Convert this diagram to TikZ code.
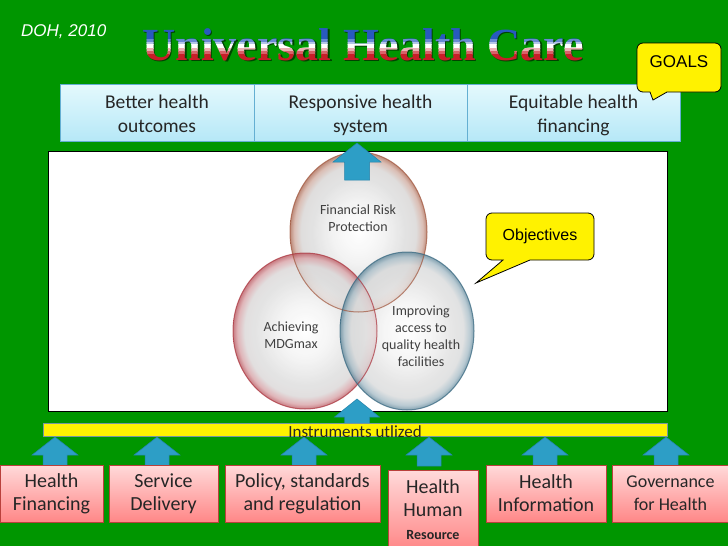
\documentclass[tikz,border=0pt]{standalone}
\usepackage{fontspec}
\setmainfont{Carlito}
\newfontfamily\arialfont{Liberation Sans}
\newfontfamily\titlefont{Liberation Serif}
\definecolor{bggreen}{RGB}{0,150,0}
\definecolor{goaltop}{RGB}{228,249,253}
\definecolor{goalbot}{RGB}{182,232,247}
\definecolor{goalborder}{RGB}{100,175,210}
\definecolor{pinktop}{RGB}{255,218,218}
\definecolor{pinkbot}{RGB}{255,135,135}
\definecolor{pinkborder}{RGB}{185,65,60}
\definecolor{arrowblue}{RGB}{45,158,198}
\definecolor{arrowedge}{RGB}{35,130,170}
\definecolor{tblue}{RGB}{40,90,190}
\definecolor{tred}{RGB}{200,30,40}
\definecolor{rimT}{RGB}{160,85,60}
\definecolor{rimL}{RGB}{170,50,60}
\definecolor{rimR}{RGB}{50,100,125}
\definecolor{venntext}{RGB}{64,64,64}
\definecolor{barborder}{RGB}{120,150,160}
\pgfdeclareradialshading{vennT}{\pgfpoint{0bp}{0bp}}{color(0bp)=(white); color(9bp)=(black!5); color(17bp)=(black!13); color(21bp)=(rimT!15!black!16); color(23.5bp)=(rimT!45!white); color(25bp)=(rimT!80!white); color(50bp)=(rimT!80!white)}
\pgfdeclareradialshading{vennL}{\pgfpoint{0bp}{0bp}}{color(0bp)=(white); color(9bp)=(black!5); color(17bp)=(black!13); color(21bp)=(rimL!15!black!16); color(23.5bp)=(rimL!45!white); color(25bp)=(rimL!80!white); color(50bp)=(rimL!80!white)}
\pgfdeclareradialshading{vennR}{\pgfpoint{0bp}{0bp}}{color(0bp)=(white); color(9bp)=(black!5); color(17bp)=(black!13); color(21bp)=(rimR!15!black!16); color(23.5bp)=(rimR!45!white); color(25bp)=(rimR!80!white); color(50bp)=(rimR!80!white)}
\newcommand\blockarr[6]{%
  \filldraw[arrowstyle] (#1,#2) -- (#1+#5,#3) -- (#1+#6,#3) -- (#1+#6,#4) -- (#1-#6,#4) -- (#1-#6,#3) -- (#1-#5,#3) -- cycle;}
\tikzset{
  arrowstyle/.style={fill=arrowblue, draw=arrowedge, line width=0.5},
  titlestyle/.style={anchor=base, inner sep=0, font=\titlefont\bfseries\fontsize{46}{50}\selectfont},
  goalcell/.style={draw=goalborder, line width=0.8, top color=goaltop, bottom color=goalbot, minimum height=57, inner sep=0},
  goaltext/.style={align=center, inner sep=0, font=\fontsize{19.5}{24}\selectfont, text=black!85},
  instr/.style={draw=pinkborder, line width=1, top color=pinktop, bottom color=pinkbot, inner sep=0, align=center, font=\fontsize{20}{23}\selectfont, text=black!85},
  venntxt/.style={align=center, text=venntext, font=\fontsize{14}{17}\selectfont},
  callout/.style={fill=yellow, draw=black, line width=0.8},
}
\begin{document}
\begin{tikzpicture}[x=1pt,y=-1pt]
\useasboundingbox (0,0) rectangle (728,546);
\fill[bggreen] (0,0) rectangle (728,546);

% title
\node[titlestyle, text=black!55!bggreen] (titleshadow) at (364.5,61.5) {Universal Health Care};
\foreach \ya/\yb/\cc [count=\k] in {15/39/tblue, 39/42/tblue!70!white, 42/44/tblue!35!white, 44/48/white, 48/51/tred!35!white, 51/54/tred!70!white, 54/70/tred}{
  \begin{scope}
    \clip (0,\ya) rectangle (728,\yb);
    \node[titlestyle, text=\cc] (title\k) at (363,60) {Universal Health Care};
  \end{scope}
}
\node[anchor=base west, inner sep=0, text=white, font=\arialfont\itshape\fontsize{17}{20}\selectfont] (doh) at (21,36) {DOH, 2010};

% goals bar
\node[goalcell, minimum width=194] (g1) at (157,112.5) {};
\node[goalcell, minimum width=213] (g2) at (360.5,112.5) {};
\node[goalcell, minimum width=213] (g3) at (573.5,112.5) {};
\node[goaltext] (g1t) at (157,116) {\strut Better health\\outcomes\strut};
\node[goaltext] (g2t) at (360.5,116) {\strut Responsive health\\system\strut};
\node[goaltext] (g3t) at (573.5,116) {\strut Equitable health\\financing\strut};

% GOALS callout
\draw[callout] (653,100) -- (650,92) {[rounded corners=6pt] -- (637,92) -- (637,43) -- (721,43) -- (721,92)} -- (667,92) -- cycle;
\node[font=\arialfont\fontsize{17}{20}\selectfont] (goals) at (679,62) {GOALS};

% white panel
\node[draw=black, fill=white, line width=0.6, minimum width=619, minimum height=260, inner sep=0] (panel) at (357.5,281) {};

% venn
\shade[shading=vennT, fill opacity=0.85] (358.5,232) ellipse [x radius=68.5pt, y radius=80pt];
\shade[shading=vennL, fill opacity=0.8] (305,331) ellipse [x radius=72pt, y radius=78pt];
\shade[shading=vennR, fill opacity=0.75] (407,331) ellipse [x radius=67pt, y radius=79pt];
\draw[rimT, line width=1, opacity=0.7] (358.5,232) ellipse [x radius=68.5pt, y radius=80pt];
\draw[rimL, line width=1, opacity=0.7] (305,331) ellipse [x radius=72pt, y radius=78pt];
\draw[rimR, line width=1, opacity=0.7] (407,331) ellipse [x radius=67pt, y radius=79pt];
\node[venntxt] (frp) at (358,218) {Financial Risk\\Protection};
\node[venntxt] (mdg) at (291,335) {Achieving\\MDGmax};
\node[venntxt] (acc) at (421,336) {Improving\\access to\\quality health\\facilities};

% top arrow
\blockarr{357}{143}{162}{180}{24}{12.5}

% Objectives callout
\draw[callout] (476,283) -- (503,260) {[rounded corners=6pt] -- (486,260) -- (486,213) -- (594,213) -- (594,260)} -- (530,260) -- cycle;
\node[font=\arialfont\fontsize{16}{19}\selectfont] (obj) at (540,236.5) {Objectives};

% bottom centre arrow
\blockarr{357}{399}{417}{424}{22.5}{12.5}

% instruments bar
\node[fill=yellow, draw=barborder, line width=0.6, minimum width=624, minimum height=13, inner sep=0] (bar) at (355,429.5) {};
\node[anchor=base, inner sep=0, text=black!85, font=\fontsize{17}{20}\selectfont] (bartext) at (355,437) {Instruments utlized};

% small arrows
\foreach \xx in {55,157,304,429,545,666}{
  \blockarr{\xx}{437}{455}{466}{23}{12}
}

% instrument boxes
\node[instr, minimum width=103, minimum height=57] (hf) at (51.5,493.5) {Health\\Financing};
\node[instr, minimum width=109, minimum height=57] (sd) at (163.5,493.5) {Service\\Delivery};
\node[instr, minimum width=155, minimum height=57] (psr) at (302.5,493.5) {Policy, standards\\and regulation};
\node[instr, minimum width=90, minimum height=80] (hhr) at (433,510) {Health\\Human\\{\bfseries\fontsize{14}{21}\selectfont Resource}};
\node[instr, minimum width=120, minimum height=57] (hi) at (546,493.5) {Health\\Information};
\node[instr, minimum width=117, minimum height=57, font=\fontsize{18}{23}\selectfont] (gov) at (670.5,493.5) {Governance\\for Health};
\end{tikzpicture}
\end{document}
